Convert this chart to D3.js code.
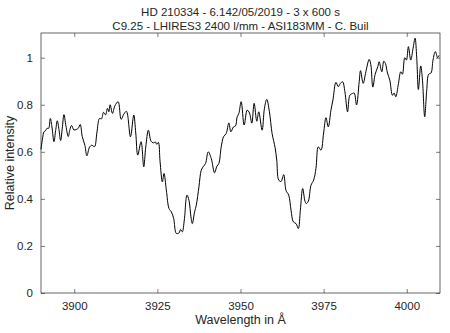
<!DOCTYPE html>
<meta charset="utf-8">
<script src="https://d3js.org/d3.v7.min.js"></script>
<style>
    body { margin: 0; background: #fff; }
    text { font-family: 'Liberation Sans', Arial, sans-serif; fill: #262626; }
</style>
<div id="chart"></div>
<script>
    // spectrum
    const wavelength = [
        3890.0, 3890.5, 3890.9, 3891.4, 3891.8, 3892.3, 3892.8, 3893.3, 3893.9, 3894.4,
        3894.9, 3895.4, 3895.9, 3896.4, 3896.9, 3897.5, 3898.2, 3898.7, 3899.2, 3899.9,
        3900.6, 3901.2, 3901.8, 3902.4, 3903.2, 3903.8, 3904.6, 3905.3, 3906.1, 3906.8,
        3907.6, 3908.2, 3908.8, 3909.4, 3910.0, 3910.4, 3910.8, 3911.5, 3912.2, 3913.2,
        3914.1, 3914.9, 3915.7, 3916.9, 3917.9, 3918.5, 3919.1, 3920.1, 3920.9, 3921.5,
        3922.3, 3923.1, 3923.8, 3924.4, 3924.8, 3925.3, 3925.8, 3926.5, 3927.0, 3927.7,
        3928.5, 3929.2, 3929.9, 3930.7, 3931.5, 3932.0, 3932.5, 3933.1, 3933.9, 3934.5,
        3935.1, 3935.5, 3936.2, 3936.7, 3937.5, 3938.2, 3938.9, 3939.5, 3940.3, 3941.2,
        3942.2, 3942.9, 3943.5, 3944.2, 3944.9, 3945.7, 3946.5, 3947.1, 3947.9, 3948.5,
        3949.0, 3949.5, 3950.2, 3951.1, 3952.0, 3952.7, 3953.4, 3954.1, 3954.9, 3955.5,
        3956.5, 3957.2, 3957.9, 3958.7, 3959.5, 3960.4, 3960.9, 3961.5, 3962.2, 3963.0,
        3963.7, 3964.5, 3965.2, 3965.9, 3966.7, 3967.4, 3968.0, 3968.7, 3969.4, 3969.8,
        3970.4, 3971.2, 3972.0, 3972.7, 3973.4, 3974.2, 3975.0, 3975.7, 3976.4, 3977.2,
        3977.8, 3978.7, 3979.4, 3980.0, 3980.7, 3981.4, 3982.2, 3982.9, 3983.7, 3984.2,
        3984.9, 3985.7, 3986.1, 3986.9, 3987.7, 3988.7, 3989.2, 3989.8, 3990.5, 3991.3,
        3991.7, 3992.5, 3993.1, 3993.6, 3994.2, 3994.9, 3995.7, 3996.2, 3996.7, 3997.5,
        3998.2, 3998.7, 3999.4, 3999.9, 4000.5, 4001.2, 4001.9, 4002.5, 4003.0, 4003.5,
        4004.2, 4004.7, 4005.4, 4006.0, 4006.6, 4007.3, 4007.9, 4008.6, 4009.3, 4009.7
    ];
    const intensity = [
        0.610, 0.660, 0.685, 0.690, 0.700, 0.700, 0.742, 0.705, 0.643, 0.690,
        0.732, 0.695, 0.648, 0.700, 0.758, 0.710, 0.665, 0.695, 0.712, 0.693,
        0.695, 0.700, 0.716, 0.665, 0.628, 0.583, 0.620, 0.628, 0.622, 0.680,
        0.742, 0.740, 0.768, 0.757, 0.785, 0.770, 0.800, 0.763, 0.795, 0.813,
        0.738, 0.760, 0.772, 0.664, 0.756, 0.680, 0.586, 0.643, 0.536, 0.620,
        0.692, 0.645, 0.638, 0.642, 0.632, 0.640, 0.560, 0.472, 0.508, 0.437,
        0.359, 0.345, 0.317, 0.253, 0.255, 0.270, 0.260, 0.310, 0.416, 0.394,
        0.323, 0.295, 0.345, 0.373, 0.451, 0.522, 0.539, 0.551, 0.600, 0.572,
        0.511, 0.539, 0.551, 0.621, 0.664, 0.678, 0.723, 0.685, 0.706, 0.710,
        0.749, 0.763, 0.813, 0.714, 0.777, 0.765, 0.722, 0.806, 0.730, 0.770,
        0.692, 0.785, 0.823, 0.770, 0.678, 0.618, 0.565, 0.480, 0.474, 0.503,
        0.435, 0.416, 0.352, 0.302, 0.295, 0.274, 0.352, 0.444, 0.390, 0.380,
        0.390, 0.458, 0.480, 0.530, 0.621, 0.607, 0.680, 0.745, 0.706, 0.777,
        0.820, 0.895, 0.877, 0.890, 0.898, 0.855, 0.770, 0.841, 0.848, 0.850,
        0.799, 0.898, 0.945, 0.891, 0.940, 0.993, 0.970, 0.875, 0.930, 0.962,
        0.983, 0.940, 0.985, 0.975, 0.935, 0.905, 0.840, 0.850, 0.834, 0.890,
        0.940, 0.930, 1.000, 0.990, 1.047, 0.990, 1.040, 1.083, 1.000, 0.865,
        0.965, 0.910, 0.749, 0.860, 0.930, 0.935, 0.990, 1.026, 1.000, 1.010
    ];
    const xTicks = [3900, 3925, 3950, 3975, 4000];
    const yTicks = [0, 0.2, 0.4, 0.6, 0.8, 1];
    const titleLines = ["HD 210334 - 6.142/05/2019 - 3 x 600 s",
                        "C9.25 - LHIRES3 2400 l/mm - ASI183MM - C. Buil"];

    const W = 450, H = 333;
    const margin = {top: 33, right: 10, bottom: 40, left: 41};
    const width = W - margin.left - margin.right,
        height = H - margin.top - margin.bottom;

    const svg = d3.select("#chart").append("svg")
        .attr("width", W).attr("height", H);
    const g = svg.append("g")
        .attr("transform", "translate(" + margin.left + "," + margin.top + ")");

    const x = d3.scaleLinear().domain([3890, 4010]).range([0, width]);
    const y = d3.scaleLinear().domain([0, 1.105]).range([height, 0]);

    const axisColor = "#262626";
    const tickLen = 4;

    // bottom / left axes with inward ticks
    const xAxis = g.append("g")
        .attr("transform", "translate(0," + height + ")")
        .call(d3.axisBottom(x).tickValues(xTicks).tickSizeInner(-tickLen).tickSizeOuter(0).tickPadding(9)
            .tickFormat(d3.format("d")));
    const yAxis = g.append("g")
        .call(d3.axisLeft(y).tickValues(yTicks).tickSizeInner(-tickLen).tickSizeOuter(0).tickPadding(8)
            .tickFormat(d3.format("~g")));
    // top / right mirror ticks
    const xTop = g.append("g")
        .call(d3.axisTop(x).tickValues(xTicks).tickSizeInner(-tickLen).tickSizeOuter(0).tickFormat(""));
    const yRight = g.append("g")
        .attr("transform", "translate(" + width + ",0)")
        .call(d3.axisRight(y).tickValues(yTicks).tickSizeInner(-tickLen).tickSizeOuter(0).tickFormat(""));

    [xAxis, yAxis, xTop, yRight].forEach(function (a) {
        a.select(".domain").remove();
        a.selectAll("line").attr("stroke", axisColor).attr("stroke-width", 0.6);
        a.selectAll("text").style("font-size", "11.5px")
            .style("font-family", "'Liberation Sans', Arial, sans-serif").attr("fill", axisColor);
    });

    g.append("rect")
        .attr("width", width).attr("height", height)
        .attr("fill", "none").attr("stroke", axisColor).attr("stroke-width", 0.7);

    // spectrum line
    const line = d3.line()
        .x(function (d, i) { return x(wavelength[i]); })
        .y(function (d) { return y(d); })
        .curve(d3.curveCatmullRom.alpha(0.5));

    g.append("path")
        .datum(intensity)
        .attr("d", line)
        .attr("fill", "none")
        .attr("stroke", "#000")
        .attr("stroke-width", 1);

    // titles and labels
    svg.selectAll(".title")
        .data(titleLines)
        .enter().append("text")
        .attr("class", "title")
        .attr("x", margin.left + width / 2)
        .attr("y", function (d, i) { return 16 + i * 14; })
        .attr("text-anchor", "middle")
        .style("font-size", "11.5px")
        .text(function (d) { return d; });

    svg.append("text")
        .attr("x", margin.left + width / 2)
        .attr("y", 324)
        .attr("text-anchor", "middle")
        .style("font-size", "12.5px")
        .text("Wavelength in Å");

    svg.append("text")
        .attr("transform", "translate(14," + (margin.top + height / 2) + ") rotate(-90)")
        .attr("text-anchor", "middle")
        .style("font-size", "12.5px")
        .text("Relative intensity");
</script>
